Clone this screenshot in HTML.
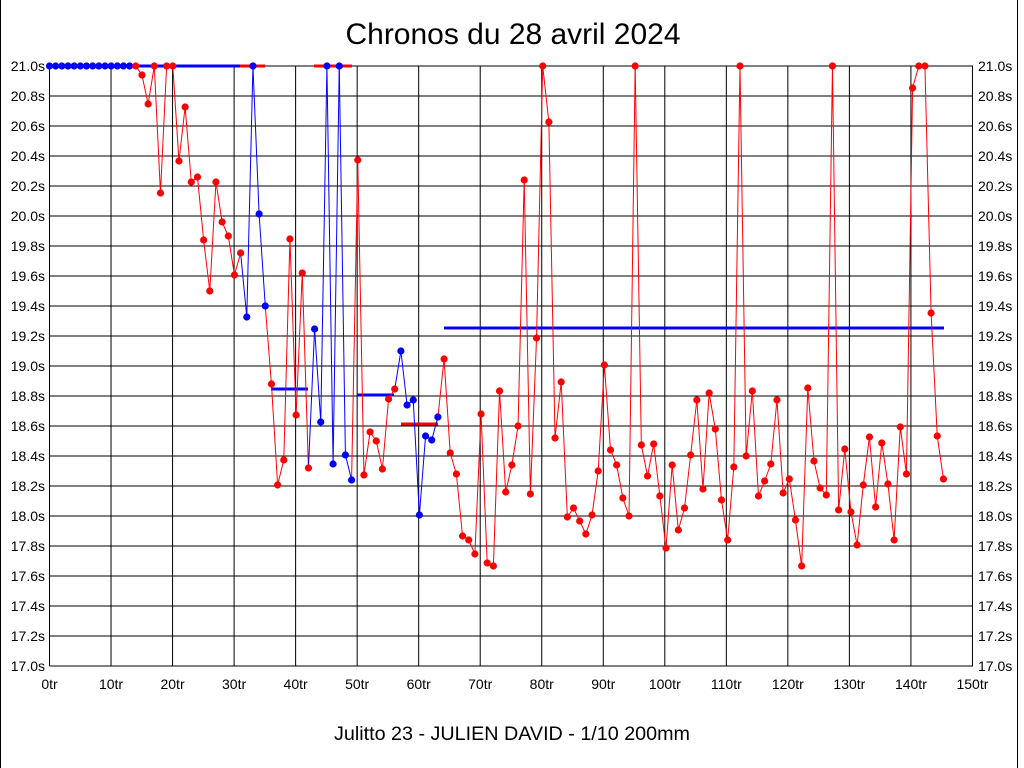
<!DOCTYPE html>
<html><head><meta charset="utf-8"><style>
html,body{margin:0;padding:0;background:#fff;width:1024px;height:768px;overflow:hidden}
svg{display:block;font-family:"Liberation Sans",Arial,sans-serif}
</style></head><body>
<svg id="s" width="1024" height="768" xmlns="http://www.w3.org/2000/svg">
<rect width="1024" height="768" fill="#fff"/>
<line x1="0.5" y1="0" x2="0.5" y2="768" stroke="#000"/>
<line x1="1017.5" y1="0" x2="1017.5" y2="768" stroke="#000"/>
<text x="513" y="44" font-size="30" text-anchor="middle" textLength="335" lengthAdjust="spacingAndGlyphs">Chronos du 28 avril 2024</text>
<text x="512" y="740" font-size="19" text-anchor="middle" textLength="356" lengthAdjust="spacingAndGlyphs">Julitto 23 - JULIEN DAVID - 1/10 200mm</text>
<g id="g"></g>
</svg>
<script>
var g=document.getElementById('g'),h='';
var X0=49.5,XW=6.165,Y0=66,YB=666;
for(var k=0;k<=20;k++){var y=Y0+k*30;
h+='<line x1="'+X0+'" y1="'+y+'" x2="973" y2="'+y+'" stroke="#000"/>';
var v=(21-k*0.2).toFixed(1)+'s';
h+='<text x="45" y="'+(y+5)+'" font-size="14" text-anchor="end">'+v+'</text>';
h+='<text x="978" y="'+(y+5)+'" font-size="14">'+v+'</text>';}
for(var t=0;t<=15;t++){var x=X0+t*61.53;
h+='<line x1="'+x+'" y1="'+Y0+'" x2="'+x+'" y2="'+YB+'" stroke="#000"/>';
h+='<text x="'+x+'" y="689" font-size="14" text-anchor="middle">'+(t*10)+'tr</text>';}
var R='#f00',B='#00f';
var pts=[];
for(var i=0;i<14;i++)pts.push([66,B]);
var d=[[66,R],[75,R],[104,R],[66,R],[193,R],[66,R],[66,R],[161,R],[107,R],[182,R],[177,R],[240,R],[291,R],[182,R],[222,R],[236,R],[275,R],[253,R],
[317,B],[66,B],[214,B],[306,B],[384,R],[485,R],[460,R],[239,R],[415,R],[273,R],[468,R],[329,B],[422,B],[66,B],[464,B],[66,B],[455,B],[480,B],
[160,R],[475,R],[432,R],[441,R],[469,R],[399,R],[389,R],[351,B],[405,B],[400,B],[515,B],[436,B],[440,B],[417,B],
[359,R],[453,R],[474,R],[536,R],[540,R],[554,R],[414,R],[563,R],[566,R],[391,R],[492,R],[465,R],[426,R],[180,R],[494,R],[338,R],[66,R],[122,R],[438,R],[382,R],[517,R],[508,R],[521,R],[534,R],[515,R],[471,R],[365,R],[450,R],[465,R],[498,R],[516,R],[66,R],[445,R],[476,R],[444,R],[496,R],[548,R],[465,R],[530,R],[508,R],[455,R],[400,R],[489,R],[393,R],[429,R],[500,R],[540,R],[467,R],[66,R],[456,R],[391,R],[496,R],[481,R],[464,R],[400,R],[493,R],[479,R],[520,R],[566,R],[388,R],[461,R],[488,R],[495,R],[66,R],[510,R],[449,R],[512,R],[545,R],[485,R],[437,R],[507,R],[443,R],[484,R],[540,R],[427,R],[474,R],[88,R],[66,R],[66,R],[313,R],[436,R],[479,R]];
pts=pts.concat(d);
function px(i){return X0+i*XW;}
function bar(x1,x2,y,c){h+='<line x1="'+x1+'" y1="'+y+'" x2="'+x2+'" y2="'+y+'" stroke="'+c+'" stroke-width="3"/>';}
bar(136,240,66,B);bar(240,265,66,R);bar(314,352,66,R);
bar(271,308,389,B);bar(357,394,395,B);bar(401,438,424,R);bar(444,944,328,B);
for(var i=1;i<pts.length;i++){
h+='<line x1="'+px(i-1)+'" y1="'+pts[i-1][0]+'" x2="'+px(i)+'" y2="'+pts[i][0]+'" stroke="'+(i<14?R:pts[i][1])+'" stroke-width="1"/>';}
for(var i=0;i<pts.length;i++)h+='<circle cx="'+px(i)+'" cy="'+pts[i][0]+'" r="3.6" fill="'+pts[i][1]+'"/>';
g.innerHTML=h;
</script>
</body></html>
